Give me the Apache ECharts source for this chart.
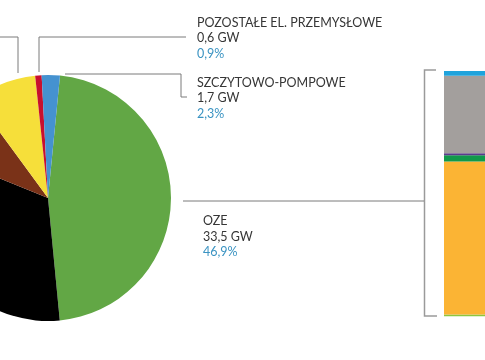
<!DOCTYPE html>
<html>
<head>
<meta charset="utf-8">
<script src="https://cdn.jsdelivr.net/npm/echarts@6/dist/echarts.min.js"></script>
<style>html,body{margin:0;padding:0;background:#fff;}#c{width:485px;height:360px;}</style>
</head>
<body>
<div id="c"></div>
<script>
// Pie: installed capacity (clockwise from OZE)
const pieNames = ['OZE', 'WĘGIEL KAMIENNY', 'WĘGIEL BRUNATNY', 'GAZOWE', 'POZOSTAŁE EL. PRZEMYSŁOWE', 'SZCZYTOWO-POMPOWE'];
const pieGW = [33.5, 23.3, 6.3, 6.0, 0.6, 1.7];
const piePct = ['46,9%', '32,6%', '8,8%', '8,4%', '0,9%', '2,3%'];
const pieColors = ['#62a745', '#000000', '#7a3218', '#f6df3a', '#c8102e', '#4592d0'];

// Stacked bar: OZE structure (bottom to top), %
const barNames = ['Inne', 'Fotowoltaika', 'Biomasa', 'Biogaz', 'Wiatr', 'Woda'];
const barValues = [0.7, 62.4, 2.6, 0.8, 31.6, 1.9];
const barColors = ['#8dc63f', '#fbb434', '#10994a', '#5b3b8c', '#a39f9d', '#1fa3dc'];

const labelPos = {
  0: {x: 203, y: 213.5, line: [[183, 201], [424, 201]]},
  1: {x: -400, y: 300, line: [[-80, 250], [-90, 250], [-100, 250]]},
  2: {x: -400, y: 100, line: [[-60, 140], [-70, 140], [-80, 140]]},
  3: {x: -300, y: 15, line: [[18, 73], [18, 37], [-40, 37]]},
  4: {x: 197, y: 14.8, line: [[39, 72], [39, 37], [186, 37]]},
  5: {x: 197, y: 74.8, line: [[65, 74], [181, 74], [181, 97], [187, 97]]}
};

const chart = echarts.init(document.getElementById('c'), null, {renderer: 'canvas'});
const fmt = v => v.toFixed(1).replace('.', ',');

const option = {
  animation: false,
  backgroundColor: '#ffffff',
  grid: {left: 444, top: 71, width: 90, height: 245.3},
  xAxis: {type: 'category', data: ['OZE'], show: false},
  yAxis: {type: 'value', min: 0, max: 100, show: false},
  graphic: [{
    type: 'polyline',
    shape: {points: [[436, 70], [424.5, 70], [424.5, 316], [437, 316]]},
    style: {stroke: '#9a9a9a', lineWidth: 1.5, fill: null}
  }],
  series: [{
    type: 'pie',
    center: [48, 198],
    radius: 123,
    startAngle: 84.4,
    clockwise: true,
    avoidLabelOverlap: false,
    data: pieNames.map((n, i) => ({name: n, value: pieGW[i], itemStyle: {color: pieColors[i]}})),
    label: {
      show: true,
      position: 'outside',
      width: 230,
      overflow: 'none',
      align: 'left',
      formatter: p => '{n|' + p.name + '}\n{n|' + fmt(pieGW[p.dataIndex]) + ' GW}\n{p|' + piePct[p.dataIndex] + '}',
      rich: {
        n: {fontFamily: 'Lato', fontSize: 12.5, color: '#363636', lineHeight: 15.5, align: 'left'},
        p: {fontFamily: 'Lato', fontSize: 12.5, color: '#3a93c2', lineHeight: 15.5, align: 'left'}
      }
    },
    labelLine: {show: true, lineStyle: {color: '#7a7a7a', width: 1}},
    labelLayout: p => {
      const c = labelPos[p.dataIndex];
      return {x: c.x, y: c.y, align: 'left', verticalAlign: 'top', labelLinePoints: c.line};
    }
  }].concat(barNames.map((n, i) => ({
    type: 'bar',
    name: n,
    stack: 'oze',
    barWidth: 90,
    data: [barValues[i]],
    itemStyle: {color: barColors[i]},
    label: {show: false}
  })))
};
chart.setOption(option);
</script>
</body>
</html>
